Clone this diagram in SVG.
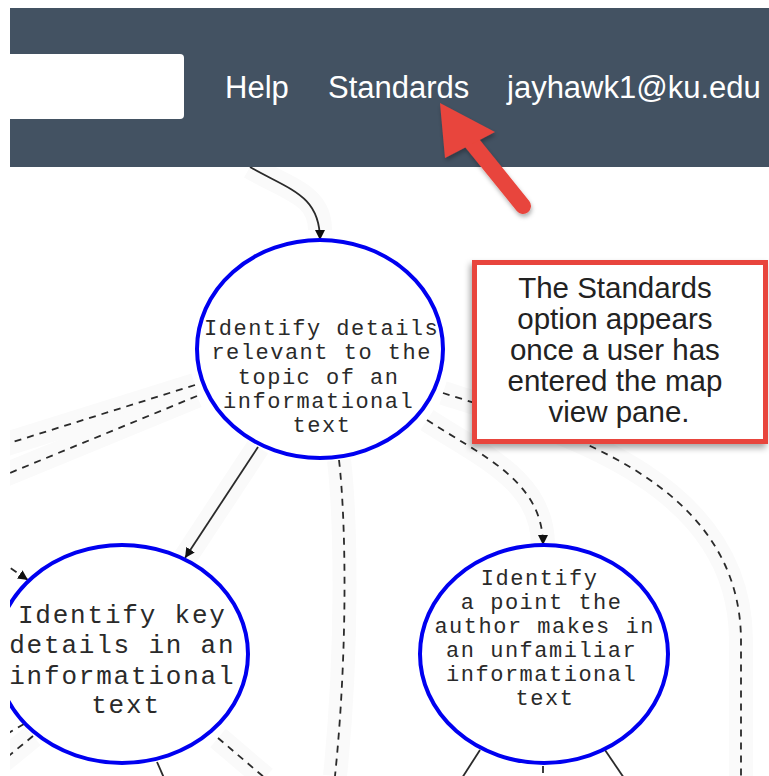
<svg xmlns="http://www.w3.org/2000/svg" width="769" height="776" viewBox="0 0 769 776">
  <defs>
    <style>
      .node { fill: #ffffff; stroke: #0000f0; stroke-width: 4; }
      .ntext { font-family: "Liberation Mono", "DejaVu Sans Mono", monospace; fill: #2a2a2a; text-anchor: middle; }
      .t1 { font-size: 22px; letter-spacing: 1.5px; }
      .t2 { font-size: 26px; letter-spacing: 1.8px; }
      .conn { fill: none; stroke: #2a2a2a; stroke-width: 1.8; }
      .dash { stroke-dasharray: 7 6; }
      .halo { fill: none; stroke: #fafafa; stroke-width: 24; stroke-linecap: butt; }
      .nav { font-family: "Liberation Sans", Arial, sans-serif; font-size: 31px; fill: #ffffff; }
      .note { font-family: "Liberation Sans", Arial, sans-serif; font-size: 29.5px; fill: #222222; text-anchor: middle; }
    </style>
    <marker id="arr" viewBox="0 0 10 10" refX="10" refY="5" markerWidth="10" markerHeight="10" markerUnits="userSpaceOnUse" orient="auto">
      <path d="M0,0 L10,5 L0,10 z" fill="#111111"/>
    </marker>
    <filter id="shadow" x="-10%" y="-10%" width="120%" height="130%">
      <feDropShadow dx="-2" dy="4" stdDeviation="3" flood-color="#000000" flood-opacity="0.35"/>
    </filter>
    <filter id="ashadow" x="-20%" y="-20%" width="140%" height="140%">
      <feDropShadow dx="1" dy="3" stdDeviation="2" flood-color="#000000" flood-opacity="0.3"/>
    </filter>
    <clipPath id="view">
      <rect x="10" y="8" width="759" height="768"/>
    </clipPath>
  </defs>
  <rect x="0" y="0" width="769" height="776" fill="#ffffff"/>
  <g clip-path="url(#view)">
    <g id="connectors">
      <g>
        <path class="halo" d="M 250 167 C 290 190, 320 195, 320 230"/>
        <path class="halo" d="M 195 385 L 0 446"/>
        <path class="halo" d="M 197 396 L 0 477"/>
        <path class="halo" d="M 258 447 L 185 558"/>
        <path class="halo" d="M 427 420 C 480 455, 543 480, 543 545"/>
        <path class="halo" d="M 443 393 C 560 430, 740 480, 741 640 L 741 776"/>
        <path class="halo" d="M 339 460 C 346 520, 348 650, 335 776"/>
        <path class="halo" d="M 218 738 L 265 778"/>
        <path class="halo" d="M 33 736 L 0 763"/>
      </g>
      <path class="conn" d="M 250 167 C 290 190, 320 195, 320 240" marker-end="url(#arr)"/>
      <path class="conn dash" d="M 195 385 L 0 446"/>
      <path class="conn dash" d="M 197 396 L 0 477"/>
      <path class="conn" d="M 258 447 L 185 558" marker-end="url(#arr)"/>
      <path class="conn dash" d="M 427 420 C 480 455, 543 480, 543 545" marker-end="url(#arr)"/>
      <path class="conn dash" d="M 443 393 C 560 430, 740 480, 741 640 L 741 776"/>
      <path class="conn dash" d="M 339 460 C 346 520, 348 650, 335 776"/>
      <path class="conn dash" d="M 0 561 L 28 580" marker-end="url(#arr)"/>
      <path class="conn dash" d="M 24 724 L 0 738"/>
      <path class="conn dash" d="M 33 736 L 0 763"/>
      <path class="conn dash" d="M 218 738 L 265 778"/>
      <path class="conn" d="M 157 762 L 164 778"/>
      <path class="conn" d="M 480 750 L 462 778"/>
      <path class="conn" d="M 605 750 L 624 778"/>
      <path class="conn dash" d="M 543 766 L 543 790"/>
    </g>

    <g id="header">
      <rect x="10" y="8" width="759" height="159" fill="#435262"/>
      <rect x="0" y="54" width="184" height="65" rx="4" fill="#ffffff"/>
      <text class="nav" x="225" y="98">Help</text>
      <text class="nav" x="328" y="98">Standards</text>
      <text class="nav" x="507" y="98">jayhawk1@ku.edu</text>
    </g>

    <g id="node-details-relevant">
      <ellipse class="node" cx="320" cy="349" rx="123" ry="109"/>
      <text class="ntext t1">
        <tspan x="329" y="335">Identify details</tspan>
        <tspan x="329" y="359">relevant to the</tspan>
        <tspan x="326" y="384">topic of an</tspan>
        <tspan x="326" y="408">informational</tspan>
        <tspan x="322" y="432">text</tspan>
      </text>
    </g>

    <g id="node-key-details">
      <ellipse class="node" cx="122" cy="654" rx="126" ry="109"/>
      <text class="ntext t2">
        <tspan x="131" y="623">Identify key</tspan>
        <tspan x="131" y="653">details in an</tspan>
        <tspan x="131" y="684">informational</tspan>
        <tspan x="126" y="713">text</tspan>
      </text>
    </g>

    <g id="node-author-point">
      <ellipse class="node" cx="544" cy="654" rx="124" ry="109"/>
      <text class="ntext t1">
        <tspan x="547" y="585">Identify</tspan>
        <tspan x="549" y="609">a point the</tspan>
        <tspan x="552" y="633">author makes in</tspan>
        <tspan x="549" y="657">an unfamiliar</tspan>
        <tspan x="549" y="681">informational</tspan>
        <tspan x="545" y="705">text</tspan>
      </text>
    </g>

    <g id="callout">
      <rect x="474.5" y="262.5" width="291" height="179" fill="#ffffff" stroke="#e8453c" stroke-width="5" filter="url(#shadow)"/>
      <text class="note">
        <tspan x="619" y="298">The Standards</tspan>
        <tspan x="619" y="329">option appears</tspan>
        <tspan x="619" y="360">once a user has</tspan>
        <tspan x="619" y="391">entered the map</tspan>
        <tspan x="619" y="422">view pane.</tspan>
      </text>
    </g>

    <g id="pointer" filter="url(#ashadow)">
      <line x1="523" y1="206" x2="468" y2="138" stroke="#e8453c" stroke-width="16" stroke-linecap="round"/>
      <polygon points="440,103 495,132 445,158" fill="#e8453c"/>
    </g>
  </g>
</svg>
